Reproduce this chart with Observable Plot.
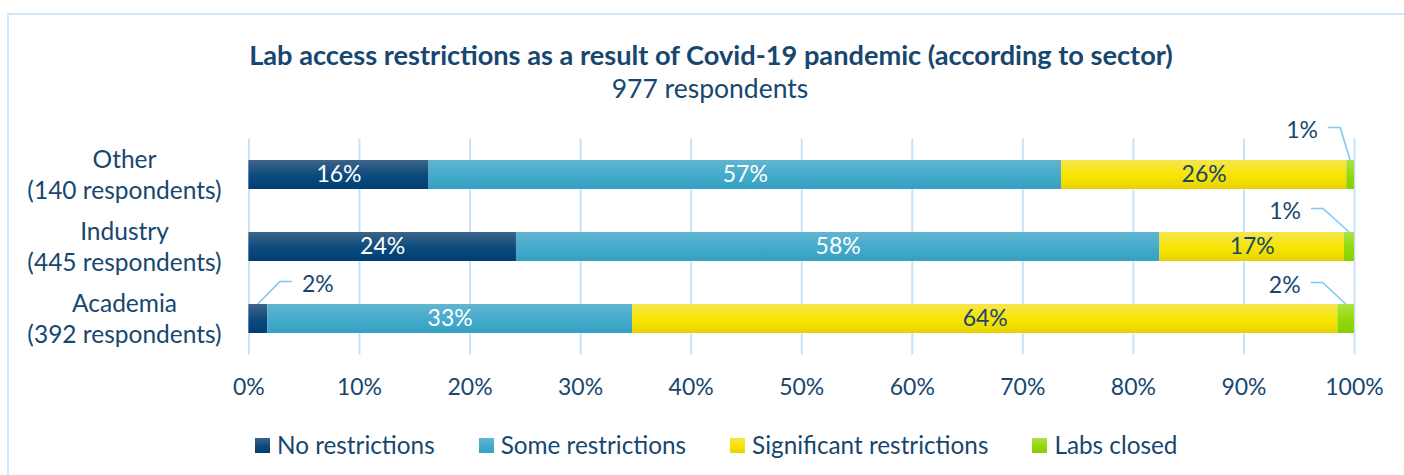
<!DOCTYPE html>
<html>
<head>
<meta charset="utf-8">
<script src="https://cdn.jsdelivr.net/npm/d3@7"></script>
<script src="https://cdn.jsdelivr.net/npm/@observablehq/plot@0.6"></script>
<style>
  html, body { margin: 0; padding: 0; background: #fff; }
  body { width: 1404px; height: 475px; position: relative; overflow: hidden; font-family: Lato, "Open Sans", sans-serif; color: #17476f; }
  #frame { position: absolute; left: 7px; top: 13px; width: 1430px; height: 520px; border: 2px solid #cfe7f9; box-sizing: border-box; }
  #title { position: absolute; left: 0; top: 40px; width: 1422px; text-align: center; font-weight: 700; font-size: 27.2px; line-height: 30px; }
  #subtitle { position: absolute; left: 0; top: 73px; width: 1420px; text-align: center; font-size: 26.5px; line-height: 30px; }
  #chart { position: absolute; left: 0; top: 110px; }
  #legend { position: absolute; left: 255px; top: 430px; display: flex; align-items: center; font-size: 24.3px; line-height: 30px; }
  .item { display: flex; align-items: center; margin-right: 44px; }
  .sw { width: 15px; height: 15px; margin-right: 7px; }
</style>
</head>
<body>
<div id="frame"></div>
<div id="title"></div>
<div id="subtitle"></div>
<div id="chart"></div>
<div id="legend"></div>
<script>
// ---- Data ----
const titleText = "Lab access restrictions as a result of Covid-19 pandemic (according to sector)";
const subtitleText = "977 respondents";
const sectors = ["Other", "Industry", "Academia"];
const sectorLabels = ["Other\n(140 respondents)", "Industry\n(445 respondents)", "Academia\n(392 respondents)"];
const series = ["No restrictions", "Some restrictions", "Significant restrictions", "Labs closed"];
const noRestrictions = [16.3, 24.2, 1.7];
const someRestrictions = [57.2, 58.2, 33.0];
const significantRestrictions = [25.8, 16.7, 63.8];
const labsClosed = [0.7, 0.9, 1.5];
const xTicks = [0, 10, 20, 30, 40, 50, 60, 70, 80, 90, 100];

// ---- Styles ----
const navy = "#17476f";
const gradients = [
  ["#3d6489", "#0b4a7c", "#003e73"],
  ["#62b5d1", "#44aacb", "#35a0c2"],
  ["#f5e54e", "#f7e500", "#e7d300"],
  ["#abe244", "#93d80e", "#86cf00"]
];
const labelColors = ["#ffffff", "#ffffff", navy, navy];
// callouts for thin segments: [sector index, series index, dx, dy] (pixel layout)
const callouts = [
  [0, 3, -48, -45],
  [1, 3, -64, -36],
  [2, 3, -61, -34],
  [2, 0, 60, -35]
];

// ---- Table ----
const valuesBySeries = [noRestrictions, someRestrictions, significantRestrictions, labsClosed];
const rows = [];
sectors.forEach((s, i) => {
  let acc = 0;
  valuesBySeries.forEach((vals, j) => {
    const v = vals[i];
    rows.push({sector: s, label: sectorLabels[i], series: series[j], si: j, value: v, x1: acc, x2: acc + v, mid: acc + v / 2});
    acc += v;
  });
});
const pct = d => Math.round(d.value) + "%";

document.getElementById("title").textContent = titleText;
document.getElementById("subtitle").textContent = subtitleText;

const marks = [
  Plot.ruleX(xTicks, {stroke: "#c6e4f9", strokeWidth: 2})
];
series.forEach((name, j) => {
  marks.push(Plot.barX(rows.filter(d => d.si === j), {x1: "x1", x2: "x2", y: "sector", fill: `url(#grad${j})`}));
});
series.forEach((name, j) => {
  marks.push(Plot.text(rows.filter(d => d.si === j && d.value >= 3), {x: "mid", y: "sector", text: pct, fill: labelColors[j], fontSize: 23}));
});
marks.push(Plot.text(sectors.map((s, i) => ({sector: s, label: sectorLabels[i]})), {
  x: () => 0, y: "sector", text: "label", dx: -124.4, dy: -1.5, textAnchor: "middle", lineHeight: 1.27, fontSize: 24.5, fill: navy
}));

const chart = Plot.plot({
  width: 1404,
  height: 305,
  marginLeft: 248.4,
  marginRight: 50,
  marginTop: 28.5,
  marginBottom: 60.5,
  style: {fontFamily: "Lato, 'Open Sans', sans-serif", fontSize: "23px", color: navy, background: "transparent", overflow: "visible"},
  x: {domain: [0, 100], ticks: xTicks, tickFormat: d => d + "%", tickSize: 0, tickPadding: 24, label: null},
  y: {domain: sectors, paddingInner: 0.597, paddingOuter: 0.2985, axis: null},
  marks
});

// gradients
const svg = d3.select(chart);
const defs = svg.insert("defs", ":first-child");
gradients.forEach((stops, j) => {
  const g = defs.append("linearGradient").attr("id", `grad${j}`).attr("x1", 0).attr("y1", 0).attr("x2", 0).attr("y2", 1);
  g.append("stop").attr("offset", "0%").attr("stop-color", stops[0]);
  g.append("stop").attr("offset", "55%").attr("stop-color", stops[1]);
  g.append("stop").attr("offset", "100%").attr("stop-color", stops[2]);
});

// callouts with leader lines, positioned through the plot's scales
const xs = chart.scale("x"), ys = chart.scale("y");
const layer = svg.append("g");
callouts.forEach(([i, j, dx, dy]) => {
  const r = rows.find(d => d.sector === sectors[i] && d.si === j);
  const bx = xs.apply(r.mid);
  const top = ys.apply(r.sector);
  const cy = top + ys.bandwidth / 2;
  const lx = bx + dx, ly = cy + dy;
  const side = dx < 0 ? 1 : -1;
  const start = lx + side * 26;
  const elbow = start + side * 12;
  layer.append("path")
    .attr("d", `M${start},${ly - 2}H${elbow}L${bx},${top}`)
    .attr("fill", "none").attr("stroke", "#7cc8f6").attr("stroke-width", 1.6);
  layer.append("text")
    .attr("x", lx).attr("y", ly).attr("dy", "0.35em")
    .attr("text-anchor", "middle").attr("font-size", 23).attr("fill", navy)
    .text(pct(r));
});

document.getElementById("chart").appendChild(chart);

// legend
const legend = d3.select("#legend");
series.forEach((name, j) => {
  const it = legend.append("div").attr("class", "item");
  it.append("div").attr("class", "sw").style("background", `linear-gradient(${gradients[j][0]}, ${gradients[j][1]} 55%, ${gradients[j][2]})`);
  it.append("span").text(name);
});
</script>
</body>
</html>
